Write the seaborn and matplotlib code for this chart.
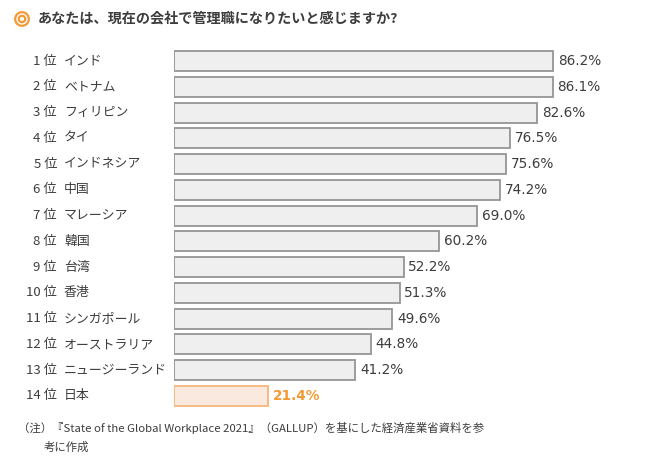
import matplotlib
matplotlib.use("Agg")
import matplotlib.pyplot as plt
import matplotlib.transforms as mtransforms
from matplotlib.patches import Circle
import seaborn as sns
import pandas as pd

ranks = ["1 位", "2 位", "3 位", "4 位", "5 位", "6 位", "7 位", "8 位", "9 位", "10 位", "11 位", "12 位", "13 位", "14 位"]
countries = ["インド", "ベトナム", "フィリピン", "タイ", "インドネシア", "中国", "マレーシア", "韓国",
             "台湾", "香港", "シンガポール", "オーストラリア", "ニュージーランド", "日本"]
values = [86.2, 86.1, 82.6, 76.5, 75.6, 74.2, 69.0, 60.2, 52.2, 51.3, 49.6, 44.8, 41.2, 21.4]
highlight = "日本"
title = "あなたは、現在の会社で管理職になりたいと感じますか?"
note1 = "（注）『State of the Global Workplace 2021』（GALLUP）を基にした経済産業省資料を参"
note2 = "考に作成"

sns.set_theme(style="white")
plt.rcParams["font.family"] = ["Noto Sans CJK JP", "DejaVu Sans"]

df = pd.DataFrame({"country": countries, "value": values})
df["group"] = ["hl" if c == highlight else "base" for c in countries]

W, H = 650, 472
fig = plt.figure(figsize=(6.5, 4.72), dpi=100)
spacing = (396 - 61) / 13
ax_left = 174
ax_width = 4.397 * 100
ax_top = 61 - spacing / 2
ax_h = spacing * 14
ax = fig.add_axes([ax_left / W, 1 - (ax_top + ax_h) / H, ax_width / W, ax_h / H])

sns.barplot(data=df, x="value", y="country", hue="group", orient="h",
            palette={"base": "#efefef", "hl": "#fde8db"}, dodge=False,
            width=20 / spacing, legend=False, ax=ax, linewidth=1.3)

for cont, grp in zip(ax.containers, ["base", "hl"]):
    ec = "#959595" if grp == "base" else "#f7b47c"
    for bar in cont:
        if bar.get_width() > 0:
            bar.set_edgecolor(ec)

ax.set_xlim(0, 100)
ax.set_ylim(13.5, -0.5)
ax.axis("off")

text_color = "#3d3d3d"
orange = "#f39a35"
trans_rank = mtransforms.blended_transform_factory(fig.transFigure, ax.transData)
for i, (r, c, v) in enumerate(zip(ranks, countries, values)):
    ax.text(57 / W, i, r, transform=trans_rank, ha="right", va="center",
            fontsize=9.5, color=text_color)
    ax.text(64 / W, i, c, transform=trans_rank, ha="left", va="center",
            fontsize=9.3, color=text_color)
    if c == highlight:
        ax.text(v + 1.1, i, f"{v:.1f}%", ha="left", va="center", fontsize=9.8,
                color=orange, fontweight="bold", family="DejaVu Sans")
    else:
        ax.text(v + 1.1, i, f"{v:.1f}%", ha="left", va="center", fontsize=9.8,
                color=text_color, family="DejaVu Sans")

# double circle icon
for r in (0.068, 0.032):
    fig.patches.append(Circle((0.22, 4.72 - 0.19), r, transform=fig.dpi_scale_trans,
                              fill=False, edgecolor=orange, linewidth=1.6))
fig.text(38 / W, 1 - 19 / H, title, ha="left", va="center", fontsize=10.2,
         color=text_color, fontweight="bold")
fig.text(18 / W, 1 - 428 / H, note1, ha="left", va="center", fontsize=8.2, color=text_color)
fig.text(44 / W, 1 - 447 / H, note2, ha="left", va="center", fontsize=8.2, color=text_color)

fig.savefig("out.png", dpi=100)
